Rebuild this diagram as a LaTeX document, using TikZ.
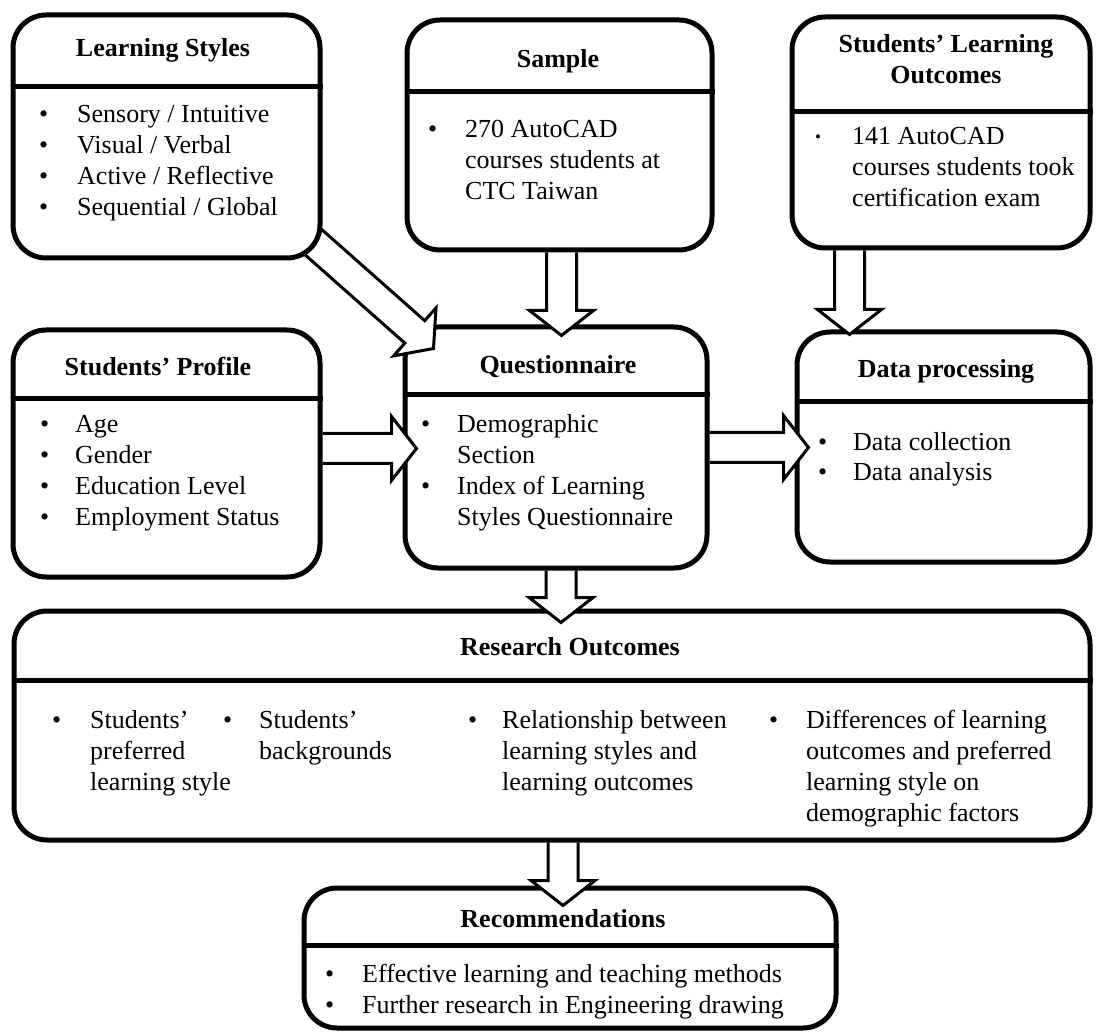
\documentclass[tikz,border=0pt]{standalone}
\usepackage{fontspec}
\setmainfont{Liberation Serif}
\usetikzlibrary{calc}
\newcommand{\boxfont}{\fontsize{26}{31}\selectfont}
\tikzstyle{flowbox}=[draw, line width=5pt, rounded corners=33pt, inner sep=0pt]
\tikzstyle{divline}=[line width=5pt]
\tikzstyle{boxtitle}=[anchor=base, inner sep=0pt, font=\boxfont\bfseries]
\tikzstyle{boxbody}=[anchor=base west, inner sep=0pt, font=\boxfont]
\tikzstyle{blockline}=[line width=3pt, line join=miter]
\newcommand{\shaftw}{15pt}
\newcommand{\headw}{32pt}
\newcommand{\headl}{25pt}
\newcommand{\flowbox}[6]{
\node[flowbox, minimum width={#4-#2}, minimum height={#5-#3}] (#1) at ({(#2+#4)/2},{(#3+#5)/2}) {};
\draw[divline] (#1.west |- 0,#6) -- (#1.east |- 0,#6);
}
\newcommand{\bulletlist}[2]{\begin{tabular}[t]{@{}p{#1}@{}l@{}}#2\end{tabular}}
\newcommand{\blockarrow}[2]{
\coordinate (ba) at (#1);
\coordinate (bb) at (#2);
\coordinate (bh) at ($(bb)!\headl!(ba)$);
\fill[white] ($(bh)!\headw!90:(bb)$) -- (bb) -- ($(bh)!\headw!-90:(bb)$) -- cycle;
\draw[blockline] ($(ba)!\shaftw!90:(bb)$) -- ($(bh)!\shaftw!90:(bb)$) -- ($(bh)!\headw!90:(bb)$) -- (bb)
  -- ($(bh)!\headw!-90:(bb)$) -- ($(bh)!\shaftw!-90:(bb)$) -- ($(ba)!\shaftw!-90:(bb)$);
}
\newcommand{\smallbullet}{\raisebox{2pt}{\fontsize{17}{17}\selectfont\textbullet}}

\begin{document}
\begin{tikzpicture}[x=1pt, y=-1pt]
\useasboundingbox (0,0) rectangle (1096,1032);
\flowbox{ls}{13}{15}{320}{258}{87}
\flowbox{samp}{407}{20}{712}{250}{92}
\flowbox{slo}{792}{17}{1090}{248}{112}
\flowbox{prof}{13}{330}{320}{577}{399}
\flowbox{quest}{405}{327}{707}{568}{395}
\flowbox{dp}{797}{332}{1090}{562}{402}
\flowbox{ro}{14}{611}{1090}{840}{680}
\flowbox{rec}{304}{888}{836}{1028}{945}

\node[boxtitle] (lstitle) at (163,57) {Learning Styles};
\node[boxbody] (lsbody) at (39,123) {\bulletlist{38pt}{\textbullet & Sensory / Intuitive\\ \textbullet & Visual / Verbal\\ \textbullet & Active / Reflective\\ \textbullet & Sequential / Global}};
\node[boxtitle] (samptitle) at (558,68) {Sample};
\node[boxbody] (sampbody) at (428,138) {\bulletlist{37pt}{\textbullet & 270 AutoCAD\\ & courses students at\\ & CTC Taiwan}};
\node[boxtitle] (slotitle) at (946,53) {\begin{tabular}[t]{@{}c@{}}Students' Learning\\ Outcomes\end{tabular}};
\node[boxbody] (slobody) at (815,145) {\bulletlist{37pt}{\smallbullet & 141 AutoCAD\\ & courses students took\\ & certification exam}};
\node[boxtitle] (proftitle) at (158,376) {Students' Profile};
\node[boxbody] (profbody) at (40,433) {\bulletlist{35pt}{\textbullet & Age\\ \textbullet & Gender\\ \textbullet & Education Level\\ \textbullet & Employment Status}};
\node[boxtitle] (questtitle) at (558,374) {Questionnaire};
\node[boxbody] (questbody) at (421,433) {\bulletlist{36pt}{\textbullet & Demographic\\ & Section\\ \textbullet & Index of Learning\\ & Styles Questionnaire}};
\node[boxtitle] (dptitle) at (946,378) {Data processing};
\node[boxbody] (dpbody) at (818,450) {\bulletlist{35pt}{\textbullet & Data collection\\ \textbullet & Data analysis}};
\node[boxtitle] (rotitle) at (570,655) {Research Outcomes};
\node[boxbody] (robodya) at (52,728) {\bulletlist{38pt}{\textbullet & Students'\\ & preferred\\ & learning style}};
\node[boxbody] (robodyb) at (223,728) {\bulletlist{36pt}{\textbullet & Students'\\ & backgrounds}};
\node[boxbody] (robodyc) at (468,728) {\bulletlist{34pt}{\textbullet & Relationship between\\ & learning styles and\\ & learning outcomes}};
\node[boxbody] (robodyd) at (769,728) {\bulletlist{37pt}{\textbullet & Differences of learning\\ & outcomes and preferred\\ & learning style on\\ & demographic factors}};
\node[boxtitle] (rectitle) at (563,927) {Recommendations};
\node[boxbody] (recbody) at (325,982) {\bulletlist{37pt}{\textbullet & Effective learning and teaching methods\\ \textbullet & Further research in Engineering drawing}};

\blockarrow{$(ls.south east)+(-11,-20)$}{$(quest.north west)+(31,24)$}
\blockarrow{$(samp.south)+(2,0)$}{$(samp.south |- quest.north)+(2,11)$}
\blockarrow{$(slo.south west)+(60,0)$}{$(slo.south west |- dp.north)+(60,5)$}
\blockarrow{$(prof.east)+(0,-5)$}{$(prof.east -| quest.west)+(14,-5)$}
\blockarrow{quest.east}{$(quest.east -| dp.west)+(14,0)$}
\blockarrow{$(quest.south)+(5,0)$}{$(quest.south |- ro.north)+(5,14)$}
\blockarrow{$(ro.south -| rec.north)+(-7,0)$}{$(rec.north)+(-7,20)$}
\end{tikzpicture}
\end{document}
